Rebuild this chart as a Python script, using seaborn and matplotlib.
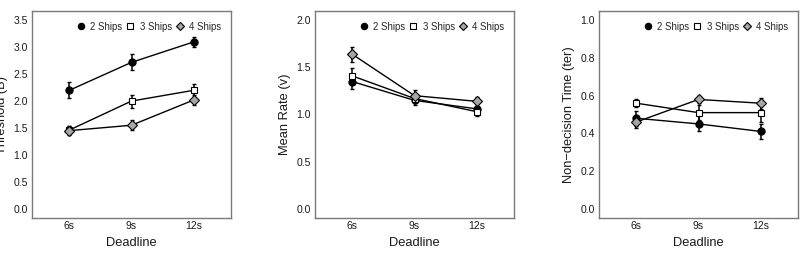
import numpy as np
import pandas as pd
import seaborn as sns
import matplotlib
matplotlib.use("Agg")
import matplotlib.pyplot as plt
from matplotlib.lines import Line2D

deadlines = ["6s", "9s", "12s"]
series = ["2 Ships", "3 Ships", "4 Ships"]

# Threshold (B)
b_2 = [2.20, 2.72, 3.10]
b_3 = [1.46, 2.00, 2.20]
b_4 = [1.45, 1.55, 2.02]
b_2_err = [0.15, 0.15, 0.09]
b_3_err = [0.08, 0.12, 0.12]
b_4_err = [0.08, 0.09, 0.10]

# Mean rate (v)
v_2 = [1.35, 1.15, 1.06]
v_3 = [1.41, 1.17, 1.03]
v_4 = [1.64, 1.20, 1.14]
v_2_err = [0.08, 0.05, 0.05]
v_3_err = [0.08, 0.05, 0.05]
v_4_err = [0.08, 0.06, 0.05]

# Non-decision time (ter)
t_2 = [0.48, 0.45, 0.41]
t_3 = [0.56, 0.51, 0.51]
t_4 = [0.46, 0.58, 0.56]
t_2_err = [0.04, 0.04, 0.04]
t_3_err = [0.02, 0.04, 0.05]
t_4_err = [0.03, 0.02, 0.03]

y_labels = ["Threshold (B)", "Mean Rate (v)", "Non\u2212decision Time (ter)"]
y_max = [3.5, 2.0, 1.0]
y_ticks = [[0.0, 0.5, 1.0, 1.5, 2.0, 2.5, 3.0, 3.5],
           [0.0, 0.5, 1.0, 1.5, 2.0],
           [0.0, 0.2, 0.4, 0.6, 0.8, 1.0]]

panels = [
    [(b_2, b_2_err), (b_3, b_3_err), (b_4, b_4_err)],
    [(v_2, v_2_err), (v_3, v_3_err), (v_4, v_4_err)],
    [(t_2, t_2_err), (t_3, t_3_err), (t_4, t_4_err)],
]

sns.set_theme(style="white")
plt.rcParams["font.family"] = ["Liberation Sans", "DejaVu Sans"]

styles = [
    dict(marker="o", mfc="black", ms=5.2),
    dict(marker="s", mfc="white", ms=4.8),
    dict(marker="D", mfc="#a6a6a6", ms=4.6),
]

fig = plt.figure(figsize=(8.02, 2.54), dpi=100)
lefts = [32 / 802, 315 / 802, 599 / 802]
w = 199 / 802
bottom = 36 / 254
h = 207 / 254
txt = "#1a1a1a"

for i, panel in enumerate(panels):
    ax = fig.add_axes([lefts[i], bottom, w, h])
    x = np.arange(len(deadlines))
    for (vals, errs), name, st in zip(panel, series, styles):
        df = pd.DataFrame({"x": x, "y": vals})
        ax.errorbar(x, vals, yerr=errs, fmt="none", ecolor="black",
                    elinewidth=1.1, capsize=1.3, capthick=1.0, zorder=2)
        sns.lineplot(data=df, x="x", y="y", ax=ax, color="black",
                     linewidth=1.0, marker=st["marker"],
                     markerfacecolor=st["mfc"], markeredgecolor="black",
                     markeredgewidth=0.8, markersize=st["ms"], zorder=3)
    ax.set_xlim(-0.6, 2.6)
    ym = y_max[i]
    ax.set_ylim(-0.05 * ym, 1.05 * ym)
    ax.set_xticks(x)
    ax.set_xticklabels(deadlines, fontsize=7.5)
    ax.set_yticks(y_ticks[i])
    ax.set_yticklabels([f"{t:.1f}" for t in y_ticks[i]], fontsize=7.5)
    ax.tick_params(axis="x", length=0, pad=2.5, colors=txt)
    ax.tick_params(axis="y", length=0, pad=3.0, colors=txt)
    ax.set_xlabel("Deadline", fontsize=9.3, labelpad=4, color=txt)
    ax.set_ylabel(y_labels[i], fontsize=9.3, labelpad=4, color=txt)
    for sp in ax.spines.values():
        sp.set_color("#7a7a7a")
        sp.set_linewidth(1.0)
    handles = [Line2D([], [], linestyle="none", marker=st["marker"],
                      markerfacecolor=st["mfc"], markeredgecolor="black",
                      markeredgewidth=0.8, markersize=st["ms"] - 0.6)
               for st in styles]
    ax.legend(handles, series, loc="center right", ncol=3, frameon=False,
              fontsize=6.9, handlelength=0.6, handletextpad=0.65,
              columnspacing=0.55, borderaxespad=0.0, borderpad=0.0,
              bbox_to_anchor=(0.95, 0.925))

fig.savefig("out.png", dpi=100)
